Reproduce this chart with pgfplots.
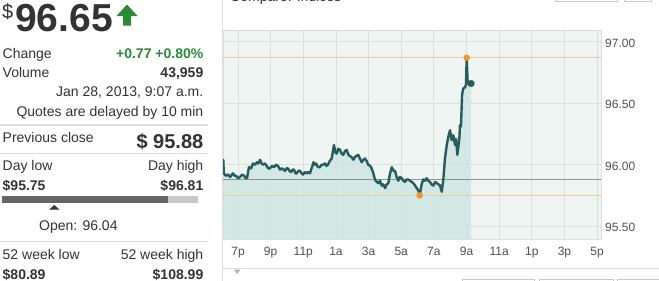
\documentclass[border=0pt]{standalone}
\usepackage{fontspec}
\setmainfont{Liberation Sans}
\usepackage{pgfplots}
\pgfplotsset{compat=1.18}
\usepackage{pgfplotstable}

\definecolor{txt}{HTML}{333333}
\definecolor{grn}{HTML}{2A8A3A}
\definecolor{sep}{HTML}{DDDDDD}
\definecolor{plotbg}{HTML}{EFF5F2}
\definecolor{gridc}{HTML}{D9E0DD}
\definecolor{areac}{RGB}{207,230,227}
\definecolor{linec}{HTML}{285B5A}
\definecolor{prevc}{HTML}{8A9694}
\definecolor{orgline}{HTML}{EFC9A2}
\definecolor{orgdot}{HTML}{F0962E}
\definecolor{ticklab}{HTML}{505050}
\definecolor{bardark}{HTML}{666666}
\definecolor{barlight}{HTML}{C8C8C8}
\definecolor{trigc}{HTML}{A8B4B8}

\newcommand\fa{\fontsize{14bp}{16bp}\selectfont}
\newcommand\fb{\fontsize{14bp}{16bp}\selectfont\bfseries}

\pgfplotstableread{
h v
0.099 96.04
0.13 95.93
0.25 95.91
0.39 95.92
0.52 95.90
0.69 95.93
0.80 95.91
0.88 95.91
1.00 95.89
1.12 95.90
1.25 95.92
1.37 95.91
1.48 95.89
1.55 95.89
1.67 95.98
1.80 95.97
1.92 96.01
2.05 96.00
2.16 96.02
2.25 96.01
2.35 96.04
2.45 96.01
2.53 96.00
2.65 96.01
2.76 95.99
2.86 95.97
2.96 95.97
3.08 95.99
3.21 95.98
3.33 96.00
3.45 95.99
3.58 95.96
3.70 95.97
3.88 95.95
3.97 95.97
4.06 95.97
4.15 95.95
4.25 95.94
4.35 95.96
4.43 95.96
4.52 95.93
4.60 95.93
4.70 95.95
4.80 95.95
4.90 95.93
4.98 95.92
5.10 95.94
5.21 95.93
5.31 95.94
5.41 95.93
5.63 96.02
5.70 96.00
5.78 96.01
5.90 95.98
6.02 95.98
6.12 96.00
6.21 96.00
6.33 96.01
6.42 95.99
6.51 96.00
6.62 96.03
6.74 96.05
6.88 96.16
6.97 96.10
7.05 96.09
7.15 96.13
7.25 96.12
7.35 96.09
7.45 96.08
7.55 96.11
7.66 96.12
7.76 96.08
7.86 96.07
7.97 96.06
8.07 96.04
8.15 96.06
8.23 96.07
8.37 96.08
8.47 96.05
8.58 96.02
8.68 96.04
8.78 96.05
8.88 96.03
8.98 96.00
9.10 95.99
9.19 95.97
9.29 95.93
9.39 95.88
9.50 95.86
9.60 95.85
9.70 95.87
9.81 95.83
9.90 95.84
10.01 95.81
10.11 95.84
10.21 95.85
10.30 95.92
10.42 95.98
10.52 95.95
10.62 95.95
10.72 95.90
10.82 95.87
10.92 95.90
11.03 95.89
11.13 95.87
11.23 95.86
11.33 95.88
11.42 95.88
11.54 95.87
11.64 95.86
11.74 95.85
11.85 95.83
11.95 95.81
12.05 95.79
12.13 95.75
12.25 95.84
12.35 95.88
12.46 95.87
12.56 95.89
12.66 95.87
12.76 95.86
12.86 95.84
12.97 95.83
13.08 95.86
13.18 95.85
13.28 95.84
13.38 95.83
13.48 95.78
13.58 95.88
13.68 96.05
13.79 96.16
13.89 96.23
13.99 96.28
14.09 96.20
14.19 96.24
14.30 96.16
14.36 96.21
14.44 96.08
14.56 96.21
14.60 96.32
14.66 96.31
14.73 96.57
14.80 96.62
14.91 96.63
14.97 96.65
15.01 96.87
15.07 96.67
15.17 96.65
15.28 96.66
}\pricedata

\begin{document}
\begin{tikzpicture}
\useasboundingbox (0,0) rectangle (659bp,-281bp);
\fill[white] (0,0) rectangle (659bp,-281bp);
\begin{scope}[x=1bp,y=-1bp]
% ---- left quote panel ----
\node[anchor=base west, inner sep=0, text=txt, font=\fontsize{20bp}{22bp}\selectfont] at (2,18) {\$};
\node[anchor=base west, inner sep=0, text=txt, font=\fontsize{39bp}{42bp}\selectfont\bfseries] at (15,31) {96.65};
\fill[grn] (116.5,16)--(127,4.5)--(137.5,16)--(131,16)--(131,25.5)--(123,25.5)--(123,16)--cycle;
\node[anchor=base west, inner sep=0, text=txt, font=\fa] at (2.5,58.5) {Change};
\node[anchor=base east, inner sep=0, text=grn, font=\fb] at (203.5,58.5) {+0.77 +0.80\%};
\node[anchor=base west, inner sep=0, text=txt, font=\fa] at (2.5,77.5) {Volume};
\node[anchor=base east, inner sep=0, text=txt, font=\fb] at (203.5,77.5) {43,959};
\node[anchor=base east, inner sep=0, text=txt, font=\fa] at (203.5,96.5) {Jan 28, 2013, 9:07 a.m.};
\node[anchor=base east, inner sep=0, text=txt, font=\fa] at (203.5,116) {Quotes are delayed by 10 min};
\draw[sep, line width=1.5bp] (0,125) -- (208,125);
\node[anchor=base west, inner sep=0, text=txt, font=\fa] at (2.5,142) {Previous close};
\node[anchor=base east, inner sep=0, text=txt, font=\fontsize{20bp}{22bp}\selectfont\bfseries] at (203.5,148) {\$ 95.88};
\draw[sep, line width=1bp] (0,153.5) -- (208,153.5);
\node[anchor=base west, inner sep=0, text=txt, font=\fa] at (2.5,170.5) {Day low};
\node[anchor=base east, inner sep=0, text=txt, font=\fa] at (203.5,170.5) {Day high};
\node[anchor=base west, inner sep=0, text=txt, font=\fb] at (2.5,190.5) {\$95.75};
\node[anchor=base east, inner sep=0, text=txt, font=\fb] at (203.5,190.5) {\$96.81};
\fill[bardark] (2,196) rectangle (168,203);
\fill[barlight] (168,196) rectangle (198,203);
\fill[txt] (49.3,209.5)--(54.3,205)--(59.3,209.5)--cycle;
\node[anchor=base west, inner sep=0, text=txt, font=\fa] at (39,230) {Open: 96.04};
\draw[sep, line width=1bp] (0,241) -- (208,241);
\node[anchor=base west, inner sep=0, text=txt, font=\fa] at (2.5,259) {52 week low};
\node[anchor=base east, inner sep=0, text=txt, font=\fa] at (203.5,259) {52 week high};
\node[anchor=base west, inner sep=0, text=txt, font=\fb] at (2.5,279) {\$80.89};
\node[anchor=base east, inner sep=0, text=txt, font=\fb] at (203.5,279) {\$108.99};
% ---- chart frame pieces ----
\draw[sep, line width=1bp] (222.5,0) -- (222.5,281);
\node[anchor=base west, inner sep=0, text=txt, font=\fa] at (230,1) {Compare: Indices};
\draw[barlight, line width=0.8bp] (555,-3) -- (555,1.5) -- (617,1.5) -- (617,-3);
\draw[barlight, line width=0.8bp] (624,-3) -- (624,1.5) -- (651,1.5) -- (651,-3);
\draw[sep, line width=1bp] (222.5,268.5) -- (659,268.5);
\fill[trigc] (234,269.5) -- (240.5,269.5) -- (237.2,274) -- cycle;
\draw[barlight, line width=0.8bp] (462,283) -- (462,279) -- (534,279) -- (534,283);
\draw[barlight, line width=0.8bp] (539,283) -- (539,279) -- (613,279) -- (613,283);
\draw[barlight, line width=0.8bp] (617,283) -- (617,279) -- (660,279);
\end{scope}
\begin{axis}[
  at={(223bp,-239bp)}, anchor=south west,
  scale only axis, width=378bp, height=209bp,
  xmin=0.081, xmax=23.24, ymin=95.396, ymax=97.095,
  xtick={1,3,...,23},
  xticklabels={7p,9p,11p,1a,3a,5a,7a,9a,11a,1p,3p,5p},
  ytick={95.5,96,96.5,97},
  yticklabel pos=right,
  grid=major,
  major grid style={gridc, line width=0.8bp},
  major tick length=0pt,
  axis line style={draw=gridc, line width=0.8bp},
  axis background/.style={fill=plotbg},
  tick label style={text=ticklab, font=\fontsize{12bp}{14bp}\selectfont},
  x tick label style={anchor=base, yshift=-16.5bp, inner sep=0pt},
  y tick label style={anchor=west, xshift=4bp, yshift=-1.5bp, inner sep=0pt},
  yticklabel style={/pgf/number format/.cd, fixed, fixed zerofill, precision=2, assume math mode=true},
  clip=true,
]
\addplot[draw=none, fill=areac, fill opacity=0.85] table[x=h,y=v] {\pricedata} \closedcycle;
\addplot[prevc, line width=0.9bp] coordinates {(0.081,95.88) (23.24,95.88)};
\addplot[orgline, line width=0.9bp] coordinates {(0.081,96.87) (23.24,96.87)};
\addplot[orgline, line width=0.9bp] coordinates {(0.081,95.75) (23.24,95.75)};
\addplot[linec, line width=2.4bp, line join=round, line cap=round] table[x=h,y=v] {\pricedata};
\addplot[only marks, mark=*, mark size=3bp, mark options={fill=orgdot, draw=orgdot}] coordinates {(15.01,96.87) (12.13,95.75)};
\addplot[only marks, mark=*, mark size=3.3bp, mark options={fill=linec, draw=linec}] coordinates {(15.28,96.66)};
\end{axis}
\end{tikzpicture}
\end{document}
